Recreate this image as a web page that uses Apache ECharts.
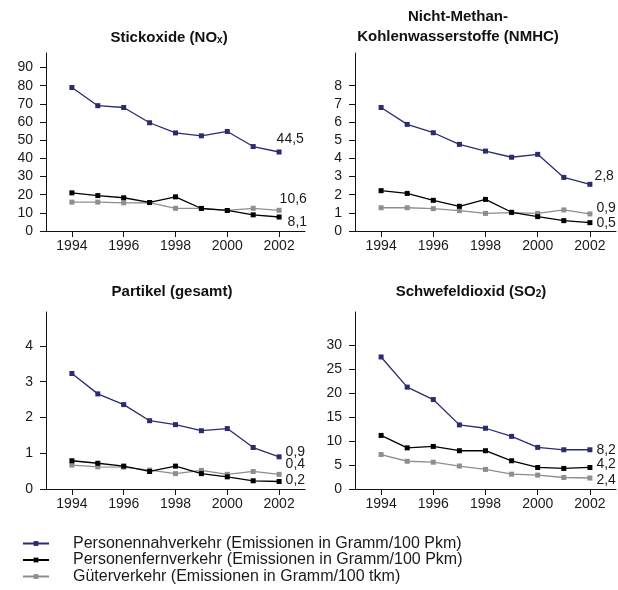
<!DOCTYPE html>
<html>
<head>
<meta charset="utf-8">
<script src="https://cdn.jsdelivr.net/npm/echarts@6/dist/echarts.min.js"></script>
<style>
  html, body { margin: 0; padding: 0; background: #fff; }
  #chart { width: 618px; height: 590px; }
</style>
</head>
<body>
<div id="chart"></div>
<script>
// Jahre und Achsbeschriftungen
var years = [1994, 1995, 1996, 1997, 1998, 1999, 2000, 2001, 2002];
var yearTicks = [1994, 1996, 1998, 2000, 2002];

var seriesNames = [
    "Personennahverkehr (Emissionen in Gramm/100 Pkm)",
    "Personenfernverkehr (Emissionen in Gramm/100 Pkm)",
    "Güterverkehr (Emissionen in Gramm/100 tkm)"
];

// Stickoxide (NOx)
var noxNah = [79, 69, 68, 59.6, 54, 52.4, 54.8, 46.5, 43.5];
var noxFern = [21, 19.5, 18.3, 15.7, 18.8, 12.4, 11.3, 8.9, 7.7];
var noxGueter = [15.9, 15.9, 15.5, 15.6, 12.5, 12.5, 11.3, 12.5, 11.4];
var noxTicks = [0, 10, 20, 30, 40, 50, 60, 70, 80, 90];
var noxEndLabels = ["44,5", "8,1", "10,6"];

// Nicht-Methan-Kohlenwasserstoffe (NMHC)
var nmhcNah = [6.8, 5.87, 5.41, 4.77, 4.4, 4.06, 4.22, 2.95, 2.57];
var nmhcFern = [2.22, 2.07, 1.69, 1.36, 1.74, 1.03, 0.79, 0.57, 0.46];
var nmhcGueter = [1.28, 1.28, 1.23, 1.12, 0.97, 1.01, 0.97, 1.16, 0.94];
var nmhcTicks = [0, 1, 2, 3, 4, 5, 6, 7, 8];
var nmhcEndLabels = ["2,8", "0,5", "0,9"];

// Partikel (gesamt)
var partNah = [3.23, 2.66, 2.36, 1.91, 1.8, 1.63, 1.69, 1.16, 0.9];
var partFern = [0.79, 0.72, 0.64, 0.49, 0.64, 0.43, 0.34, 0.23, 0.21];
var partGueter = [0.67, 0.62, 0.61, 0.53, 0.43, 0.52, 0.41, 0.49, 0.41];
var partTicks = [0, 1, 2, 3, 4];
var partEndLabels = ["0,9", "0,2", "0,4"];

// Schwefeldioxid (SO2)
var so2Nah = [27.6, 21.3, 18.7, 13.4, 12.7, 11.0, 8.7, 8.2, 8.2];
var so2Fern = [11.2, 8.6, 8.9, 8.0, 8.0, 5.9, 4.5, 4.3, 4.5];
var so2Gueter = [7.2, 5.8, 5.6, 4.8, 4.1, 3.1, 2.9, 2.4, 2.3];
var so2Ticks = [0, 5, 10, 15, 20, 25, 30];
var so2EndLabels = ["8,2", "4,2", "2,4"];

var colors = ["#2b2b70", "#000000", "#8e8e8e"];
var FONT = "'Liberation Sans', Arial, sans-serif";

var panels = [
    { data: [noxNah, noxFern, noxGueter], ticks: noxTicks, max: 98, ends: noxEndLabels,
      grid: { left: 46, width: 259, top: 53, height: 178 },
      offsets: [[-10, -13], [1, 5], [-7, -11]] },
    { data: [nmhcNah, nmhcFern, nmhcGueter], ticks: nmhcTicks, max: 9.8, ends: nmhcEndLabels,
      grid: { left: 355, width: 261, top: 53, height: 178 },
      offsets: [[-3, -8], [-1, 0], [-1, -6]] },
    { data: [partNah, partFern, partGueter], ticks: partTicks, max: 4.95, ends: partEndLabels,
      grid: { left: 46, width: 259, top: 312, height: 177 },
      offsets: [[-1, -5], [-1, -1], [-1, -10]] },
    { data: [so2Nah, so2Fern, so2Gueter], ticks: so2Ticks, max: 37, ends: so2EndLabels,
      grid: { left: 355, width: 261, top: 312, height: 177 },
      offsets: [[-1, 0], [-1, -3], [-1, 2]] }
];

var grids = [], xAxes = [], yAxes = [], series = [];
for (var p = 0; p < panels.length; p++) {
    var pan = panels[p];
    grids.push(pan.grid);
    xAxes.push({
        type: "value", gridIndex: p, min: 1993, max: 2003,
        axisLine: { show: true, lineStyle: { color: "#111", width: 1 } },
        axisTick: { show: true, length: 6, lineStyle: { color: "#111" }, customValues: yearTicks },
        axisLabel: {
            customValues: yearTicks, fontSize: 14, color: "#1a1a1a", fontFamily: FONT, margin: 8,
            formatter: function(v) { return String(v); }
        },
        splitLine: { show: false }
    });
    yAxes.push({
        type: "value", gridIndex: p, min: 0, max: pan.max,
        axisLine: { show: true, lineStyle: { color: "#111", width: 1 } },
        axisTick: { show: true, length: 6, lineStyle: { color: "#111" }, customValues: pan.ticks },
        axisLabel: { customValues: pan.ticks, fontSize: 14, color: "#1a1a1a", fontFamily: FONT, margin: 13 },
        splitLine: { show: false }
    });
    for (var s = 0; s < 3; s++) {
        var pts = [];
        for (var i = 0; i < years.length; i++) {
            var item = { value: [years[i], pan.data[s][i]] };
            if (i === years.length - 1) {
                item.label = {
                    show: true, position: "right", offset: pan.offsets[s],
                    formatter: pan.ends[s], fontSize: 14, color: "#1a1a1a", fontFamily: FONT
                };
            }
            pts.push(item);
        }
        series.push({
            name: seriesNames[s], type: "line", xAxisIndex: p, yAxisIndex: p,
            data: pts, symbol: "rect", symbolSize: 5, showSymbol: true,
            itemStyle: { color: colors[s] },
            lineStyle: { color: colors[s], width: 1.3 },
            z: 3 - s, animation: false, silent: true
        });
    }
}

var titleFont = "bold 15px " + FONT;
var subStyle = { fontSize: 10, fontWeight: "bold", fontFamily: FONT, verticalAlign: "bottom", padding: [5, 0, 0, 0] };
function titleText(x, y, text) {
    return {
        type: "text", x: x, y: y, silent: true,
        style: {
            text: text, align: "center", verticalAlign: "middle",
            font: titleFont, fill: "#111",
            rich: { sub: subStyle }
        }
    };
}

var chart = echarts.init(document.getElementById("chart"), null, { renderer: "canvas" });
chart.setOption({
    backgroundColor: "#fff",
    animation: false,
    grid: grids,
    xAxis: xAxes,
    yAxis: yAxes,
    series: series,
    legend: {
        orient: "vertical", left: 17, top: 530.5,
        itemWidth: 26, itemHeight: 6, itemGap: 0.5,
        data: seriesNames,
        textStyle: { fontSize: 16, color: "#1a1a1a", fontFamily: FONT, padding: [0, 0, 0, 19] },
        selectedMode: false
    },
    graphic: [
        titleText(169, 38, "Stickoxide (NO{sub|x})"),
        titleText(458, 17, "Nicht-Methan-"),
        titleText(458, 37, "Kohlenwasserstoffe (NMHC)"),
        titleText(172, 292, "Partikel (gesamt)"),
        titleText(471, 292, "Schwefeldioxid (SO{sub|2})")
    ]
});
</script>
</body>
</html>
